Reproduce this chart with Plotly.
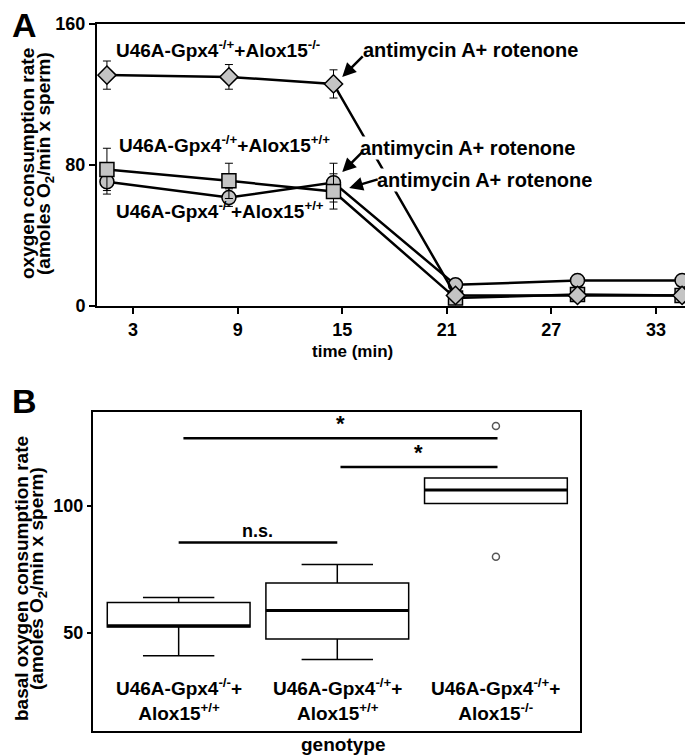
import plotly.graph_objects as go

W, H = 693, 755
OFF = 8  # page body margin of the browser

# ---- panel A data ----
time_min = [1.5, 8.5, 14.5, 21.5, 28.5, 34.5]
het_ko = [131, 130, 126, 6, 6, 6]            # U46A-Gpx4-/+ + Alox15-/-  (diamonds)
het_ko_err = [8, 7, 8, 1, 1, 1]
het_wt = [77.5, 71, 65, 4.5, 6.5, 6]         # U46A-Gpx4-/+ + Alox15+/+  (squares)
het_wt_err = [12, 10, 10, 1, 1, 1]
ko_wt = [70.5, 61.5, 70, 12, 14.5, 14.5]     # U46A-Gpx4-/- + Alox15+/+  (circles)
ko_wt_err = [7, 5, 11, 1, 1, 1]

# ---- panel B data ----
genotypes = ["U46A-Gpx4<sup>-/-</sup>+<br>Alox15<sup>+/+</sup>",
             "U46A-Gpx4<sup>-/+</sup>+<br>Alox15<sup>+/+</sup>",
             "U46A-Gpx4<sup>-/+</sup>+<br>Alox15<sup>-/-</sup>"]
box_pos = [0, 1, 2]
q1 = [52.3, 47.6, 101]
medians = [52.8, 58.8, 106.3]
q3 = [62, 69.7, 111]
lower_fence = [41, 39.6, 101]
upper_fence = [64, 77, 111]
outlier_x = [2, 2]
outlier_y = [131.5, 80]
sig_x0 = [0.03, 1.02, 0.0]
sig_x1 = [2.01, 2.01, 1.0]
sig_y = [126.7, 115.3, 85.6]
sig_text = ["*", "*", "n.s."]

FONT = "Liberation Sans"
FW, FH = W - OFF, H - OFF


def px(x):
    return (x - OFF) / FW


def py(y):
    return 1 - (y - OFF) / FH


fig = go.Figure()

err = dict(type="data", thickness=1, width=4, color="black")
fig.add_trace(go.Scatter(x=time_min, y=ko_wt, mode="lines+markers",
                         error_y=dict(array=ko_wt_err, **err),
                         line=dict(color="black", width=2.5),
                         marker=dict(symbol="circle", size=14, color="#c4c4c4",
                                     line=dict(color="black", width=1.5)),
                         xaxis="x", yaxis="y"))
fig.add_trace(go.Scatter(x=time_min, y=het_wt, mode="lines+markers",
                         error_y=dict(array=het_wt_err, **err),
                         line=dict(color="black", width=2.5),
                         marker=dict(symbol="square", size=14, color="#c4c4c4",
                                     line=dict(color="black", width=1.5)),
                         xaxis="x", yaxis="y"))
fig.add_trace(go.Scatter(x=time_min, y=het_ko, mode="lines+markers",
                         error_y=dict(array=het_ko_err, **err),
                         line=dict(color="black", width=2.5),
                         marker=dict(symbol="diamond", size=14, color="#c4c4c4",
                                     line=dict(color="black", width=1.5)),
                         xaxis="x", yaxis="y"))

# boxes
fig.add_trace(go.Box(x=box_pos, q1=q1, median=medians, q3=q3,
                     lowerfence=lower_fence, upperfence=upper_fence,
                     width=0.9, whiskerwidth=0.5, fillcolor="white",
                     line=dict(color="black", width=1.5),
                     boxpoints=False, xaxis="x2", yaxis="y2"))
# thick median lines
mx, my = [], []
for p, m in zip(box_pos, medians):
    mx += [p - 0.45, p + 0.45, None]
    my += [m, m, None]
fig.add_trace(go.Scatter(x=mx, y=my, mode="lines", line=dict(color="black", width=3),
                         xaxis="x2", yaxis="y2"))
fig.add_trace(go.Scatter(x=outlier_x, y=outlier_y, mode="markers",
                         marker=dict(symbol="circle-open", size=7, color="#555555",
                                     line=dict(width=1.5)),
                         xaxis="x2", yaxis="y2"))
sx, sy = [], []
for a, b, y in zip(sig_x0, sig_x1, sig_y):
    sx += [a, b, None]
    sy += [y, y, None]
fig.add_trace(go.Scatter(x=sx, y=sy, mode="lines", line=dict(color="black", width=2.5),
                         xaxis="x2", yaxis="y2"))

ann = []
bold = dict(family=FONT, color="black", weight="bold")


def text(x, y, t, size=18, **kw):
    d = dict(x=px(x), y=py(y), xref="paper", yref="paper", text=t, showarrow=False,
             xanchor="center", yanchor="middle", font=dict(size=size, **bold))
    d.update(kw)
    ann.append(d)


# panel letters
text(OFF + 3, 25, "A", 34, xanchor="left", borderpad=0)
text(OFF + 3, 401, "B", 34, xanchor="left", borderpad=0)

# panel A labels
text(218, 49, "U46A-Gpx4<sup>-/+</sup>+Alox15<sup>-/-</sup>", 19)
text(224, 144, "U46A-Gpx4<sup>-/+</sup>+Alox15<sup>+/+</sup>", 19)
text(220, 210, "U46A-Gpx4<sup>-/-</sup>+Alox15<sup>+/+</sup>", 19)
text(470, 50, "antimycin A+ rotenone", 20, bgcolor="white", borderpad=0)
text(467, 148, "antimycin A+ rotenone", 20, bgcolor="white", borderpad=0)
text(484, 180, "antimycin A+ rotenone", 20, bgcolor="white", borderpad=0)
# arrows
for hx, hy, dx, dy in [(15.0, 130, 22, -22), (15.0, 76, 21, -21), (15.4, 67, 30, -9)]:
    ann.append(dict(x=hx, y=hy, xref="x", yref="y", ax=dx, ay=dy, text="",
                    showarrow=True, arrowhead=2, arrowsize=1.1, arrowwidth=2.5,
                    arrowcolor="black"))
text(28, 164, "oxygen consumption rate", 19, textangle=-90)
text(45, 164, "(amoles O<sub>2</sub>/min x sperm)", 19, textangle=-90)
text(352, 352, "time (min)", 17)

# panel B labels
for p, g in zip(box_pos, genotypes):
    ann.append(dict(x=p, y=24, xref="x2", yref="y2", text=g, showarrow=False,
                    xanchor="center", yanchor="middle", font=dict(size=19, **bold)))
for a, b, y, t in zip(sig_x0, sig_x1, sig_y, sig_text):
    ann.append(dict(x=(a + b) / 2, y=y, xref="x2", yref="y2", text=t, showarrow=False,
                    xanchor="center", yanchor="bottom",
                    font=dict(size=22 if t == "*" else 18, **bold)))
text(21, 579, "basal oxygen consumption rate", 19, textangle=-90)
text(38, 579, "(amoles O<sub>2</sub>/min x sperm)", 19, textangle=-90)
text(343, 744, "genotype", 19)

axis_common = dict(showline=True, mirror=True, linecolor="black", linewidth=2,
                   showgrid=False, zeroline=False, ticks="outside", tickcolor="black",
                   tickwidth=2, tickfont=dict(size=18, **bold), automargin=False)

fig.update_layout(
    width=FW, height=FH, margin=dict(l=0, r=0, t=0, b=0, autoexpand=False),
    paper_bgcolor="white", plot_bgcolor="white", showlegend=False,
    font=dict(family=FONT, color="black"),
    xaxis=dict(domain=[px(97), px(692)], range=[0.93, 35.07], tickvals=[3, 9, 15, 21, 27, 33],
               ticklen=6, anchor="y", **axis_common),
    yaxis=dict(domain=[py(306), py(24)], range=[0, 160], tickvals=[0, 80, 160],
               ticklen=6, anchor="x", **axis_common),
    xaxis2=dict(domain=[px(93), px(580)], range=[-0.54, 2.53], showticklabels=False,
                anchor="y2", **{**axis_common, "ticks": ""}),
    yaxis2=dict(domain=[py(731), py(412)], range=[11.4, 137], tickvals=[50, 100],
                ticklen=4, anchor="x2", **axis_common),
    annotations=ann,
)

fig.write_html("out.html")
